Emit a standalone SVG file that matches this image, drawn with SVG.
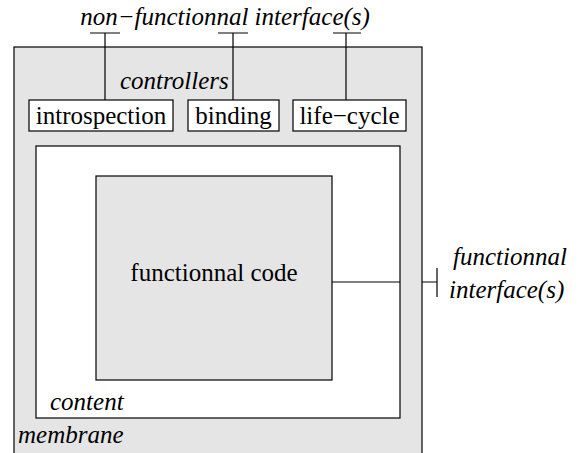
<svg xmlns="http://www.w3.org/2000/svg" width="585" height="453" viewBox="0 0 585 453">
<style>
text{font-family:'Liberation Serif','Times New Roman',serif !important;font-size:25px !important;fill:#000}
.i{font-style:italic !important}
.box{fill:#fff;stroke:#000;stroke-width:1.2}
.g{fill:#e5e5e5;stroke:#000;stroke-width:1.2}
.c{fill:none;stroke:#000;stroke-width:1.2}
</style>
<rect width="585" height="453" fill="#fff"/>
<g id="membrane">
<rect class="g" x="14" y="47" width="408" height="420"/>
<text class="i" x="18" y="443" font-family="Liberation Serif">membrane</text>
</g>
<g id="content">
<rect class="box" x="36" y="146" width="364" height="272"/>
<text class="i" x="50" y="410" font-family="Liberation Serif">content</text>
</g>
<g id="code">
<rect class="g" x="96" y="176" width="236" height="204"/>
<text x="214" y="281" text-anchor="middle" font-family="Liberation Serif">functionnal code</text>
</g>
<g id="controllers">
<text class="i" x="120" y="89" font-family="Liberation Serif">controllers</text>
</g>
<g id="introspection">
<rect class="box" x="29" y="100" width="144" height="31"/>
<text x="101" y="124" text-anchor="middle" font-family="Liberation Serif">introspection</text>
</g>
<g id="binding">
<rect class="box" x="188" y="100" width="91" height="31"/>
<text x="233.5" y="124" text-anchor="middle" font-family="Liberation Serif">binding</text>
</g>
<g id="lifecycle">
<rect class="box" x="293" y="100" width="113" height="31"/>
<text x="349.5" y="124" text-anchor="middle" font-family="Liberation Serif">life−cycle</text>
</g>
<g id="nf-interfaces">
<text class="i" x="225" y="25" text-anchor="middle" font-family="Liberation Serif">non−functionnal interface(s)</text>
</g>
<g id="f-interface">
<text class="i" x="453" y="265" font-family="Liberation Serif">functionnal</text>
<text class="i" x="449" y="298" font-family="Liberation Serif">interface(s)</text>
</g>
<g id="connectors">
<path class="c" d="M90 33H120M105 33V100"/>
<path class="c" d="M218 33H248M233 33V100"/>
<path class="c" d="M333 33H361M346 33V100"/>
<path class="c" d="M332 282H400M422 282H437M437 268V297"/>
</g>
</svg>
